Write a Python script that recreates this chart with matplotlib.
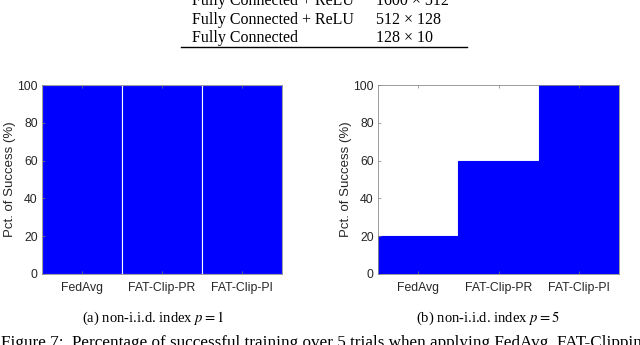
import matplotlib
matplotlib.use("Agg")
import matplotlib.pyplot as plt
import numpy as np

# data
methods = ["FedAvg", "FAT-Clip-PR", "FAT-Clip-PI"]
success_p1 = [100, 100, 100]
success_p5 = [20, 60, 100]

# bottom rows of the table above the figure
layer_names = ["Fully Connected + ReLU", "Fully Connected + ReLU", "Fully Connected"]
layer_shapes = ["1600 \u00d7 512", "512 \u00d7 128", "128 \u00d7 10"]

subcaptions = ["(a) non-i.i.d. index $p = 1$", "(b) non-i.i.d. index $p = 5$"]
caption = ("Figure 7:  Percentage of successful training over 5 trials when "
           "applying FedAvg, FAT-Clipping-PR and FAT-Clipping-PI")

plt.rcParams["mathtext.fontset"] = "stix"
W, H = 640, 345
fig = plt.figure(figsize=(W / 100, H / 100), dpi=100)


def fx(px):
    return px / W


def fy(py):
    return 1 - py / H


serif = "Liberation Serif"
sans = "Liberation Sans"
txt_col = "#262626"

# table remains (cut at the top edge, as in the page crop)
for i, (name, shape) in enumerate(zip(layer_names, layer_shapes)):
    y = 1 + i * 18.5
    fig.text(fx(192), fy(y), name, family=serif, fontsize=11.5, va="center", ha="left")
    fig.text(fx(376), fy(y), shape, family=serif, fontsize=11.5, va="center", ha="left")
fig.add_artist(plt.Line2D([fx(181), fx(467)], [fy(47), fy(47)], color="black", lw=1.0))


def bar_panel(rect, values, edge):
    ax = fig.add_axes(rect)
    x = np.arange(1, len(values) + 1)
    ax.bar(x, values, width=1.0, color="#0000ff", edgecolor=edge, linewidth=0.8)
    ax.set_xlim(0.5, len(values) + 0.5)
    ax.set_ylim(0, 100)
    ax.set_yticks(range(0, 101, 20))
    ax.set_xticks(x)
    ax.set_xticklabels(methods)
    ax.set_ylabel("Pct. of Success (%)", family=sans, fontsize=9.5, color=txt_col, labelpad=1)
    ax.tick_params(direction="in", length=2.5, width=0.5, colors="#7f7f7f",
                   labelcolor=txt_col, labelsize=8.8, top=True, right=False, pad=3)
    ax.tick_params(axis="x", pad=6)
    for lbl in ax.get_xticklabels() + ax.get_yticklabels():
        lbl.set_family(sans)
    for sp in ax.spines.values():
        sp.set_color("#8c8c8c")
        sp.set_linewidth(0.6)
    ax.set_axisbelow(False)
    return ax


ax1 = bar_panel([fx(42), fy(274), fx(282 - 42), (274 - 85) / H], success_p1, "white")
ax2 = bar_panel([fx(378), fy(274), fx(619 - 378), (274 - 85) / H], success_p5, "#0000ff")

fig.text(fx(153), fy(318), subcaptions[0], family=serif, fontsize=10.5, ha="center", va="center")
fig.text(fx(488), fy(318), subcaptions[1], family=serif, fontsize=10.5, ha="center", va="center")
fig.text(fx(1), fy(347), caption, family=serif, fontsize=12.3, ha="left", va="baseline")

fig.savefig("out.png", dpi=100)
